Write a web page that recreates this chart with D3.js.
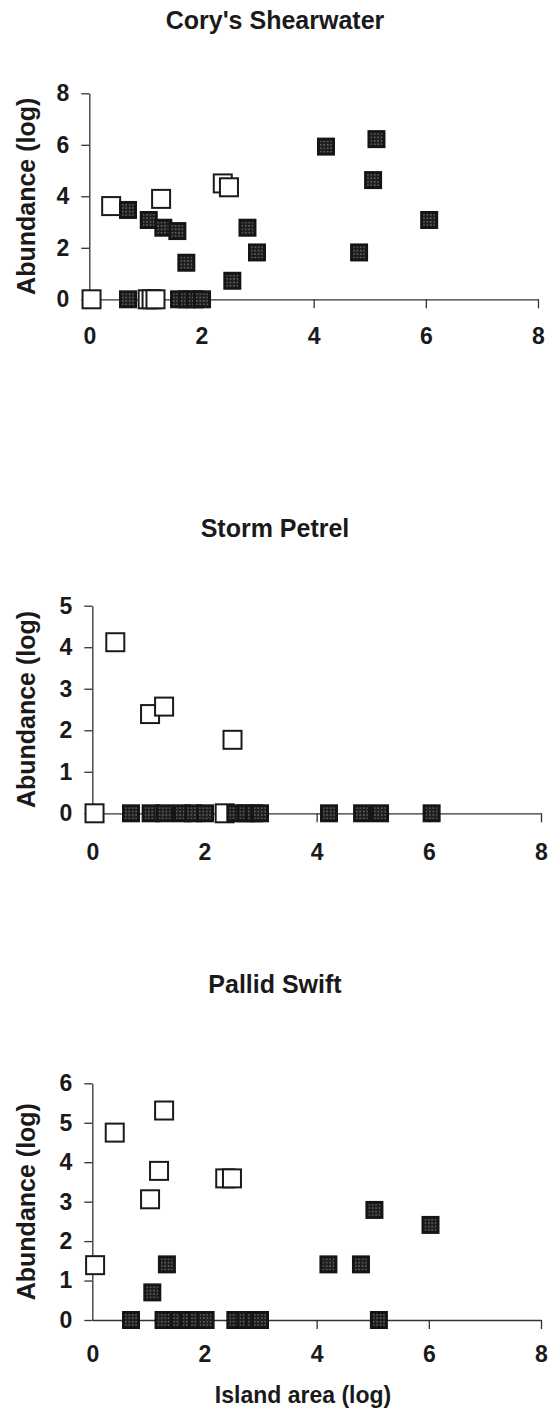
<!DOCTYPE html>
<html>
<head>
<meta charset="utf-8">
<script src="https://cdn.jsdelivr.net/npm/d3@7"></script>
<style>
  html, body { margin: 0; padding: 0; background: #fff; }
  svg { display: block; }
  text { font-family: Arial, "Liberation Sans", sans-serif; font-weight: bold; fill: #1a1a1a; }
</style>
</head>
<body>
<div id="chart"></div>
<script>
// values: [island area (log), abundance (log)]
var titles = ["Cory's Shearwater", 'Storm Petrel', 'Pallid Swift'];
var xTicks = [0, 2, 4, 6, 8];

var coryTicks = [0, 2, 4, 6, 8];
var coryOpen = [[0.04, 0], [0.39, 3.62], [1.04, 0], [1.11, 0], [1.18, 0],
                [1.28, 3.9], [2.38, 4.5], [2.49, 4.35]];
var coryFilled = [[0.69, 3.47], [0.69, 0], [1.06, 3.08], [1.32, 2.78], [1.57, 2.65],
                  [1.73, 1.42], [1.6, 0], [1.74, 0], [1.88, 0], [2.01, 0],
                  [2.55, 0.72], [2.82, 2.78], [2.99, 1.82], [4.22, 5.93], [4.81, 1.82],
                  [5.06, 4.63], [5.12, 6.22], [6.06, 3.08]];

var petrelTicks = [0, 1, 2, 3, 4, 5];
var petrelOpen = [[0.04, 0], [0.41, 4.12], [1.03, 2.39], [1.28, 2.57], [2.5, 1.77], [2.36, 0]];
var petrelFilled = [[0.69, 0], [1.04, 0], [1.29, 0], [1.6, 0], [1.8, 0], [2.01, 0],
                    [2.55, 0], [2.73, 0], [2.88, 0], [2.99, 0],
                    [4.22, 0], [4.81, 0], [5.13, 0], [6.05, 0]];

var swiftTicks = [0, 1, 2, 3, 4, 5, 6];
var swiftOpen = [[0.05, 1.39], [0.4, 4.75], [1.28, 5.31], [1.19, 3.78], [1.03, 3.06],
                 [2.37, 3.59], [2.49, 3.59]];
var swiftFilled = [[1.33, 1.41], [1.07, 0.7], [4.21, 1.41], [4.79, 1.41], [5.03, 2.79],
                   [6.03, 2.41], [0.69, 0], [1.27, 0], [1.55, 0], [1.72, 0], [1.87, 0],
                   [2.02, 0], [2.55, 0], [2.73, 0], [2.88, 0], [2.99, 0], [5.11, 0]];

var width = 552,
    height = 1417,
    size = 18;

// one block per panel: where it sits on the page
var panels = [
  { title: titles[0], yTicks: coryTicks, open: coryOpen, filled: coryFilled,
    left: 89.3, right: 538, bottom: 299.3, top: 93.3, titleY: 29, pad: 19 },
  { title: titles[1], yTicks: petrelTicks, open: petrelOpen, filled: petrelFilled,
    left: 92.3, right: 541, bottom: 813.3, top: 605.7, titleY: 537, pad: 21 },
  { title: titles[2], yTicks: swiftTicks, open: swiftOpen, filled: swiftFilled,
    left: 92.3, right: 541, bottom: 1320, top: 1083.3, titleY: 993, pad: 17 }
];

var svg = d3.select('#chart')
  .append('svg')
    .attr('width', width)
    .attr('height', height);

// stippled fill for the solid markers
var pattern = svg.append('defs')
  .append('pattern')
    .attr('id', 'stipple')
    .attr('width', 3.5)
    .attr('height', 3.5)
    .attr('patternUnits', 'userSpaceOnUse');

pattern.append('rect')
  .attr('width', 3.5)
  .attr('height', 3.5)
  .attr('fill', '#1e1e1e');

pattern.append('rect')
  .attr('x', 1.2)
  .attr('y', 1.2)
  .attr('width', 1)
  .attr('height', 1)
  .attr('fill', '#cfcfcf');

panels.forEach(drawPanel);

svg.append('text')
  .attr('x', 303)
  .attr('y', 1403)
  .attr('text-anchor', 'middle')
  .style('font-size', '23px')
  .text('Island area (log)');


/*-- functions --*/
function drawPanel(p)
{
  var ymax = p.yTicks[p.yTicks.length - 1],
      x = d3.scaleLinear().domain([0, 8]).range([p.left, p.right]),
      y = d3.scaleLinear().domain([0, ymax]).range([p.bottom, p.top]),
      g = svg.append('g');

  g.append('text')
    .attr('x', 275)
    .attr('y', p.titleY)
    .attr('text-anchor', 'middle')
    .style('font-size', '25px')
    .text(p.title);

  g.append('text')
    .attr('transform', 'translate(35,' + ((p.top + p.bottom) / 2) + ') rotate(-90)')
    .attr('text-anchor', 'middle')
    .style('font-size', '25px')
    .text('Abundance (log)');

  var yAxis = g.append('g')
    .attr('transform', 'translate(' + p.left + ',0)')
    .call(d3.axisLeft(y)
      .tickValues(p.yTicks)
      .tickFormat(d3.format('d'))
      .tickSize(8)
      .tickSizeOuter(0)
      .tickPadding(12));

  var xAxis = g.append('g')
    .attr('transform', 'translate(0,' + p.bottom + ')')
    .call(d3.axisBottom(x)
      .tickValues(xTicks)
      .tickFormat(d3.format('d'))
      .tickSize(9)
      .tickSizeOuter(0)
      .tickPadding(p.pad));

  [yAxis, xAxis].forEach(function(a)
  {
    a.select('.domain').attr('stroke', '#333').attr('stroke-width', 1.3);
    a.selectAll('.tick line').attr('stroke', '#333').attr('stroke-width', 1.3);
    a.selectAll('.tick text')
      .attr('fill', '#1a1a1a')
      .style('font-size', '23px')
      .style('font-family', 'Arial, "Liberation Sans", sans-serif')
      .style('font-weight', 'bold');
  });

  // no tick under the origin on the x axis
  xAxis.selectAll('.tick line').filter(function(d) { return d === 0; }).remove();

  g.selectAll('rect.open')
    .data(p.open)
    .enter()
      .append('rect')
      .attr('class', 'open')
      .attr('x', function(d) { return x(d[0]) - size / 2; })
      .attr('y', function(d) { return y(d[1]) - size / 2; })
      .attr('width', size)
      .attr('height', size)
      .attr('fill', '#fff')
      .attr('stroke', '#1a1a1a')
      .attr('stroke-width', 2);

  var marks = g.selectAll('g.filled')
    .data(p.filled)
    .enter()
      .append('g')
      .attr('class', 'filled')
      .attr('transform', function(d)
      {
        return 'translate(' + x(d[0]) + ',' + y(d[1]) + ')';
      });

  marks.append('rect')
    .attr('x', -size / 2)
    .attr('y', -size / 2)
    .attr('width', size)
    .attr('height', size)
    .attr('fill', '#151515');

  marks.append('rect')
    .attr('x', -size / 2 + 3)
    .attr('y', -size / 2 + 3)
    .attr('width', size - 6)
    .attr('height', size - 6)
    .attr('fill', 'url(#stipple)');
}
</script>
</body>
</html>
